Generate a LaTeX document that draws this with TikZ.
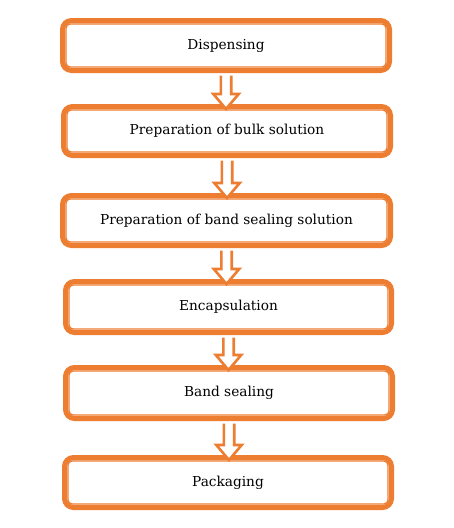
\documentclass[tikz,border=0pt]{standalone}
\usepackage{fontspec}
\setmainfont{DejaVu Serif}
\usetikzlibrary{calc}
\definecolor{orng}{RGB}{237,125,49}
\tikzset{
  stagebox/.style={draw=orng, line width=5pt, rounded corners=9pt, fill=white,
    font=\fontsize{13.7}{16}\selectfont, text=black, inner sep=0pt},
  innerline/.style={draw=orng, line width=1.4pt, rounded corners=4pt},
  hollowarrow/.style={draw=orng, fill=white, line width=2.6pt, miter limit=10}
}
\newcommand{\innerframe}[1]{%
  \draw[innerline] ($(#1.north west)+(6,-6)$) rectangle ($(#1.south east)+(-6,6)$);}
\newcommand{\hollowdown}[2]{%
  \path let \p1=(#1.south), \p2=(#2.north) in
    [hollowarrow] (\x1-5.2,\y1-2.5) -- (\x1-5.2,\y2+10) -- (\x1-12.7,\y2+10) -- (\x1,\y2-5)
    -- (\x1+12.7,\y2+10) -- (\x1+5.2,\y2+10) -- (\x1+5.2,\y1-2.5);}
\begin{document}
\begin{tikzpicture}[x=1pt,y=1pt]
\useasboundingbox (0,0) rectangle (453,-528);
\node[stagebox, minimum width=327pt, minimum height=50pt] (b1) at (226,-45.5) {Dispensing};
\node[stagebox, minimum width=327pt, minimum height=49pt] (b2) at (227,-131) {Preparation of bulk solution};
\node[stagebox, minimum width=328pt, minimum height=50pt] (b3) at (226.5,-220.5) {Preparation of band sealing solution};
\node[stagebox, minimum width=326pt, minimum height=51pt] (b4) at (228.5,-307) {Encapsulation};
\node[stagebox, minimum width=327pt, minimum height=51pt] (b5) at (229,-393) {Band sealing};
\node[stagebox, minimum width=327pt, minimum height=50pt] (b6) at (228,-482.5) {Packaging};
\innerframe{b1}
\innerframe{b2}
\innerframe{b3}
\innerframe{b4}
\innerframe{b5}
\innerframe{b6}
\hollowdown{b1}{b2}
\hollowdown{b2}{b3}
\hollowdown{b3}{b4}
\hollowdown{b4}{b5}
\hollowdown{b5}{b6}
\end{tikzpicture}
\end{document}
